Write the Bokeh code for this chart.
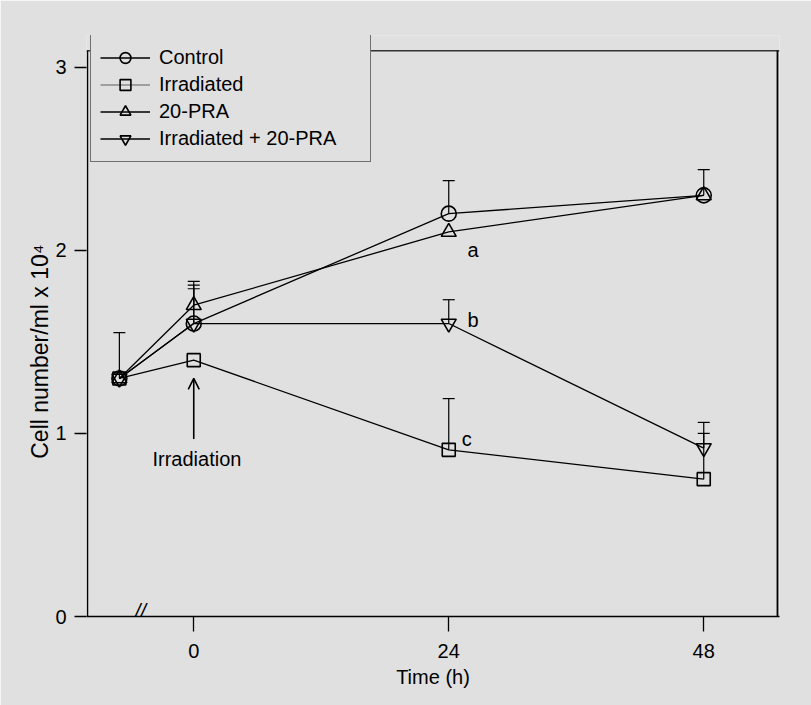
from bokeh.plotting import figure
from bokeh.models import (Range1d, FixedTicker, ColumnDataSource, Whisker, TeeHead,
                          Legend, LegendItem, Label, Arrow, OpenHead, Span)
from bokeh.embed import file_html
from bokeh.resources import INLINE

# ---- data ----
times = [-7, 0, 24, 48]
control = [1.3, 1.6, 2.2, 2.3]
control_err = [0.25, 0.21, 0.18, 0.14]
irradiated = [1.3, 1.4, 0.91, 0.75]
irradiated_err = [0, 0, 0.28, 0.25]
pra = [1.3, 1.7, 2.1, 2.3]
pra_err = [0, 0.13, 0, 0]
irr_pra = [1.3, 1.6, 1.6, 0.92]
irr_pra_err = [0, 0.19, 0.13, 0.14]
series_names = ["Control", "Irradiated", "20-PRA", "Irradiated + 20-PRA"]
x_ticks = [0, 24, 48]
y_ticks = [0, 1, 2, 3]
sig_labels = ["a", "b", "c"]
y_title = "Cell number/ml x 10\u2074"

BG = "#e0e0e0"
FONT = "Liberation Sans"
FS = "20px"

X0, X1 = -10.094, 55.13      # data range of the frame
Y_TOP_BOX = 3.09             # top edge of drawn box
X_RIGHT_BOX = 54.94          # right edge of drawn box
X_LEFT_BOX = -10.0

p = figure(width=811, height=705, output_backend="svg", toolbar_location=None,
           x_range=Range1d(X0, X1), y_range=Range1d(0, 3.173),
           min_border_left=86, min_border_right=32, min_border_top=35, min_border_bottom=89)
p.background_fill_color = BG
p.border_fill_color = BG
p.outline_line_color = None
p.xgrid.visible = False
p.ygrid.visible = False

for ax in (p.xaxis[0], p.yaxis[0]):
    ax.axis_line_color = "black"
    ax.axis_line_width = 1.5
    ax.major_tick_line_color = "black"
    ax.major_tick_line_width = 1.3
    ax.major_tick_in = 0
    ax.minor_tick_line_color = None
    ax.major_label_text_font = FONT
    ax.major_label_text_font_size = FS
    ax.major_label_text_color = "black"
    ax.axis_label_text_font = FONT
    ax.axis_label_text_font_size = FS
    ax.axis_label_text_font_style = "normal"
    ax.axis_label_text_color = "black"

p.xaxis.ticker = FixedTicker(ticks=x_ticks)
p.xaxis.major_tick_out = 15
p.xaxis.major_label_standoff = 12
p.xaxis.axis_label = "Time (h)"
p.xaxis.axis_label_standoff = 5

p.yaxis.ticker = FixedTicker(ticks=y_ticks)
p.yaxis.axis_line_color = None
p.yaxis.major_tick_out = 12
p.yaxis.major_label_standoff = 8
# non-breaking spaces shift the centred title down, as in the original
p.yaxis.axis_label = y_title + "\u00a0" * 8
p.yaxis.axis_label_text_font_size = "23px"
p.yaxis.axis_label_standoff = -1

# box edges (top, right, left)
p.add_layout(Span(location=Y_TOP_BOX, dimension="width", line_color="#333333", line_width=1.6))
p.add_layout(Arrow(x_start=X_RIGHT_BOX, y_start=0, x_end=X_RIGHT_BOX, y_end=Y_TOP_BOX,
                   line_color="black", line_width=1.8, end=None))
p.add_layout(Arrow(x_start=X_LEFT_BOX, y_start=0, x_end=X_LEFT_BOX, y_end=Y_TOP_BOX,
                   line_color="black", line_width=1.5, end=None))

markers = ["circle", "square", "triangle", "inverted_triangle"]
sizes = [15, 13, 15, 15]
values = [control, irradiated, pra, irr_pra]
errs = [control_err, irradiated_err, pra_err, irr_pra_err]

for vals, er in zip(values, errs):
    xs = [t for t, e in zip(times, er) if e > 0]
    lo = [v for v, e in zip(vals, er) if e > 0]
    up = [v + e for v, e in zip(vals, er) if e > 0]
    src = ColumnDataSource(dict(base=xs, lower=lo, upper=up))
    w = Whisker(source=src, base="base", lower="lower", upper="upper",
                line_color="black", line_width=1.2,
                upper_head=TeeHead(size=12, line_color="black", line_width=1.2),
                lower_head=None)
    p.add_layout(w)

line_rs, scat_rs = [], []
for vals, mk, sz in zip(values, markers, sizes):
    line_rs.append(p.line(times, vals, line_color="black", line_width=1.3))
    scat_rs.append(p.scatter(times, vals, marker=mk, size=sz, fill_color=None,
                             line_color="black", line_width=1.6))

# legend: the Irradiated entry uses a grey line proxy (no visible data)
nan = float("nan")
grey_proxy = p.line([nan], [nan], line_color="#8a8a8a", line_width=1.5)
items = []
for i, name in enumerate(series_names):
    lr = grey_proxy if i == 1 else line_rs[i]
    items.append(LegendItem(label=name, renderers=[lr, scat_rs[i]]))
legend = Legend(items=items, location=(4, 454))
legend.glyph_width = 50
legend.glyph_height = 27
legend.label_height = 27
legend.spacing = 0
legend.padding = 9
legend.margin = 0
legend.label_standoff = 9
legend.label_width = 202
legend.label_text_font = FONT
legend.label_text_font_size = FS
legend.label_text_color = "black"
legend.border_line_color = "black"
legend.border_line_width = 1.5
legend.background_fill_color = BG
legend.background_fill_alpha = 1.0
p.add_layout(legend)

# significance letters
for txt, xx, yy in zip(sig_labels, [26.3, 26.3, 25.7], [2.0, 1.62, 0.97]):
    p.add_layout(Label(x=xx, y=yy, text=txt, text_font=FONT, text_font_size=FS,
                       text_align="center", text_baseline="middle", text_color="black"))

# irradiation arrow and label
p.add_layout(Arrow(x_start=0, y_start=0.97, x_end=0, y_end=1.30, line_color="black",
                   line_width=1.6, end=OpenHead(size=11, line_color="black", line_width=1.6)))
p.add_layout(Label(x=0.3, y=0.86, text="Irradiation", text_font=FONT, text_font_size=FS,
                   text_align="center", text_baseline="middle", text_color="black"))

# axis break mark (screen units relative to the frame's bottom-left)
p.add_layout(Label(x=54, y=6, x_units="screen", y_units="screen", text="//",
                   text_font=FONT, text_font_size="20px", text_font_style="italic",
                   text_align="center", text_baseline="middle", text_color="black"))

open("out.html", "w").write(file_html(p, INLINE))
